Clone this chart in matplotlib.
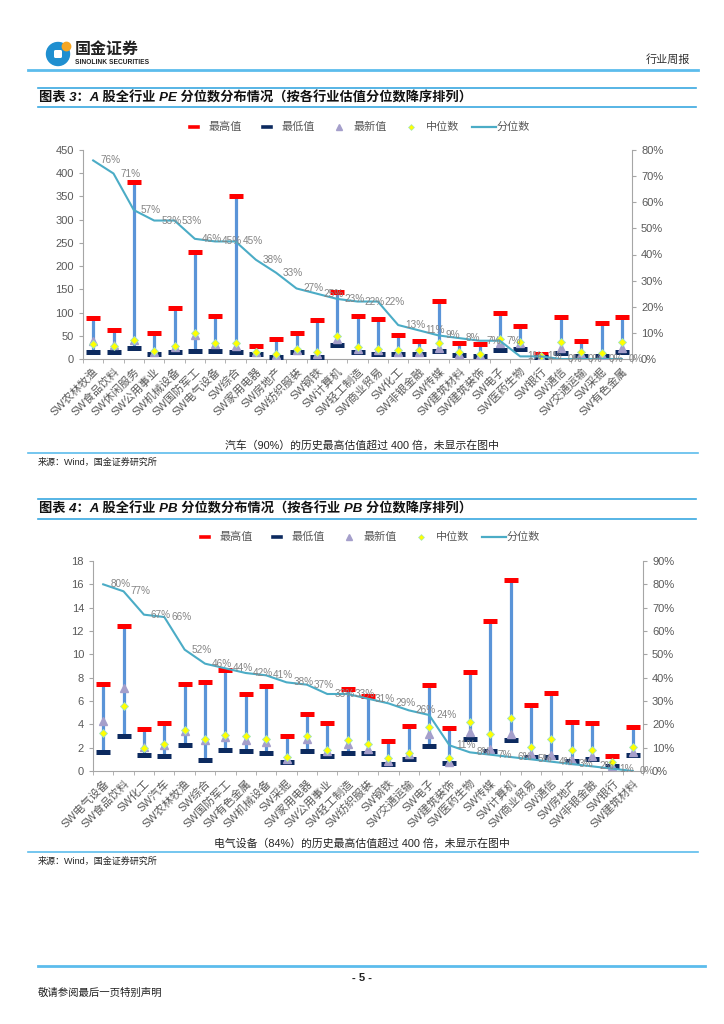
import matplotlib
matplotlib.use('Agg')
import matplotlib.pyplot as plt
from matplotlib.lines import Line2D
from matplotlib.patches import Circle, FancyBboxPatch
from matplotlib.ticker import FuncFormatter
import numpy as np

plt.rcParams['font.family'] = ['Liberation Sans', 'Noto Sans CJK SC', 'DejaVu Sans']

# ---- data: PE chart (图表3) ----
pe_cats = ['SW农林牧渔', 'SW食品饮料', 'SW休闲服务', 'SW公用事业', 'SW机械设备', 'SW国防军工',
           'SW电气设备', 'SW综合', 'SW家用电器', 'SW房地产', 'SW纺织服装', 'SW钢铁', 'SW计算机',
           'SW轻工制造', 'SW商业贸易', 'SW化工', 'SW非银金融', 'SW传媒', 'SW建筑材料', 'SW建筑装饰',
           'SW电子', 'SW医药生物', 'SW银行', 'SW通信', 'SW交通运输', 'SW采掘', 'SW有色金属']
pe_max = [88, 63, 382, 57, 110, 230, 93, 350, 29, 43, 56, 83, 145, 93, 86,
          52, 38, 124, 34, 32, 99, 70, 11, 90, 38, 77, 90]
pe_min = [15, 14, 24, 11, 15, 18, 18, 15, 11, 4, 14, 4, 31, 15, 11,
          11, 11, 18, 8, 7, 20, 22, 4, 13, 7, 7, 16]
pe_latest = [38, 30, 40, 16, 25, 52, 32, 29, 14, 9, 20, 11, 42, 21, 20,
             16, 16, 24, 11, 8, 34, 34, 4, 24, 11, 9, 24]
pe_median = [32, 29, 40, 18, 27, 57, 34, 34, 15, 11, 22, 16, 49, 26, 21,
             19, 19, 34, 15, 11, 43, 37, 6, 37, 16, 13, 36]
pe_pct = [76, 71, 57, 53, 53, 46, 45, 45, 38, 33, 27, 25, 23, 22, 22,
          13, 11, 9, 8, 7, 7, 1, 1, 0, 0, 0, 0]

# ---- data: PB chart (图表4) ----
pb_cats = ['SW电气设备', 'SW食品饮料', 'SW化工', 'SW汽车', 'SW农林牧渔', 'SW综合', 'SW国防军工',
           'SW有色金属', 'SW机械设备', 'SW采掘', 'SW家用电器', 'SW公用事业', 'SW轻工制造',
           'SW纺织服装', 'SW钢铁', 'SW交通运输', 'SW电子', 'SW建筑装饰', 'SW医药生物', 'SW传媒',
           'SW计算机', 'SW商业贸易', 'SW通信', 'SW房地产', 'SW非银金融', 'SW银行', 'SW建筑材料']
pb_max = [7.45, 12.4, 3.64, 4.1, 7.45, 7.65, 8.62, 6.59, 7.31, 3.0, 4.9, 4.15, 7.02, 6.45,
          2.61, 3.87, 7.34, 3.7, 8.48, 12.9, 16.33, 5.7, 6.7, 4.24, 4.15, 1.29, 3.78]
pb_min = [1.66, 3.04, 1.38, 1.32, 2.23, 0.97, 1.8, 1.69, 1.58, 0.77, 1.72, 1.26, 1.55, 1.55,
          0.63, 1.03, 2.12, 0.66, 2.72, 1.69, 2.64, 1.2, 1.17, 0.86, 1.06, 0.4, 1.4]
pb_latest = [4.27, 7.08, 2.06, 2.26, 3.44, 2.64, 2.92, 2.69, 2.52, 1.06, 2.72, 1.69, 2.29, 1.92,
             0.86, 1.43, 3.21, 0.77, 3.35, 1.92, 3.21, 1.49, 1.35, 0.97, 1.26, 0.4, 1.6]
pb_median = [3.27, 5.59, 2.0, 2.32, 3.55, 2.75, 3.12, 2.98, 2.75, 1.2, 3.0, 1.78, 2.69, 2.32,
             1.09, 1.58, 3.75, 1.15, 4.21, 3.21, 4.56, 2.09, 2.72, 1.83, 1.83, 0.77, 2.06]
pb_pct = [80, 77, 67, 66, 52, 46, 44, 42, 41, 38, 37, 33, 33, 31, 29, 26, 24,
          11, 8, 7, 6, 5, 4, 3, 2, 1, 0]

legend_names = ['最高值', '最低值', '最新值', '中位数', '分位数']

W, H = 724, 1024
RED = '#ff0000'
NAVY = '#0c2a5f'
BARBLUE = '#5a94d8'
LILAC = '#a59fcb'
YEL = '#ffff00'
TEAL = '#4bacc6'
GRAY_TXT = '#595959'
AX_GRAY = '#a6a6a6'
HDR_BLUE = '#5cbcec'

fig = plt.figure(figsize=(W / 100, H / 100), dpi=100)

# overlay in pixel coordinates for page decoration
ov = fig.add_axes([0, 0, 1, 1])
ov.set_xlim(0, W)
ov.set_ylim(H, 0)
ov.axis('off')


def chart(left, top, right, bottom, cats, mx, mn, lt, md, pct, ymax, ystep, rmax):
    ax = fig.add_axes([left / W, 1 - bottom / H, (right - left) / W, (bottom - top) / H])
    x = np.arange(len(cats))
    ax.vlines(x, mn, mx, color=BARBLUE, lw=2.3, zorder=2)
    ax.plot(x, mx, ls='none', marker='_', ms=10.5, mew=3.6, color=RED, zorder=3)
    ax.plot(x, mn, ls='none', marker='_', ms=10.5, mew=3.6, color=NAVY, zorder=3)
    ax.plot(x, lt, ls='none', marker='^', ms=5.5, color=LILAC, mec=LILAC, zorder=4)
    ax.plot(x, md, ls='none', marker='D', ms=4, mfc=YEL, mec='#9fe3c0', mew=0.6, zorder=5)
    ax.set_xlim(-0.5, len(cats) - 0.5)
    ax.set_ylim(0, ymax)
    ax.set_yticks(np.arange(0, ymax + ystep / 2, ystep))
    ax.set_xticks(x)
    ax.set_xticklabels(cats, rotation=45, ha='right', rotation_mode='anchor',
                       fontsize=8, color=GRAY_TXT)
    ax.set_xticks(np.arange(-0.5, len(cats), 1), minor=True)
    ax.tick_params(axis='x', which='major', length=0, pad=5)
    ax.tick_params(axis='x', which='minor', length=3, color=AX_GRAY)
    ax.tick_params(axis='y', length=3, color=AX_GRAY, labelsize=8, labelcolor=GRAY_TXT)
    for s in ['top', 'right']:
        ax.spines[s].set_visible(False)
    for s in ['left', 'bottom']:
        ax.spines[s].set_color(AX_GRAY)
    ax.patch.set_alpha(0)

    ax2 = ax.twinx()
    ax2.plot(x, np.array(pct) / 100, color=TEAL, lw=1.5, zorder=6)
    for i, p in enumerate(pct):
        ax2.annotate(f'{p}%', (i, p / 100), xytext=(5, 0), textcoords='offset points',
                     ha='left', va='center', fontsize=7.2, color='#858585', zorder=7)
    ax2.set_ylim(0, rmax)
    ax2.set_yticks(np.arange(0, rmax + 0.05, 0.1))
    ax2.yaxis.set_major_formatter(FuncFormatter(lambda v, _: f'{v * 100:.0f}%'))
    ax2.tick_params(axis='y', length=3, color=AX_GRAY, labelsize=8, labelcolor=GRAY_TXT)
    for s in ['top', 'left', 'bottom']:
        ax2.spines[s].set_visible(False)
    ax2.spines['right'].set_color(AX_GRAY)
    return ax


def legend_row(y, xs):
    # xs: marker x positions for the five entries
    ov.add_line(Line2D([xs[0] - 4, xs[0] + 4], [y, y], color=RED, lw=2.6))
    ov.add_line(Line2D([xs[1] - 4, xs[1] + 4], [y, y], color=NAVY, lw=2.6))
    ov.plot(xs[2], y, marker='^', ms=4, color=LILAC)
    ov.plot(xs[3], y, marker='D', ms=3, mfc=YEL, mec='#9fe3c0', mew=0.5)
    ov.add_line(Line2D([xs[4] - 12, xs[4] + 12], [y, y], color=TEAL, lw=1.6))
    for k, nm in enumerate(legend_names):
        off = 15 if k < 4 else 13
        ov.text(xs[k] + off, y, nm, fontsize=8, color=GRAY_TXT, ha='left', va='center')


def title_box(y_top, y_bot, text):
    ov.add_line(Line2D([38, 696], [y_top, y_top], color='#3aa8e0', lw=1.2))
    ov.add_line(Line2D([38, 696], [y_bot, y_bot], color='#3aa8e0', lw=1.2))
    ov.text(39, (y_top + y_bot) / 2 + 0.5, text, fontsize=9.5, fontweight='bold',
            fontstyle='italic', ha='left', va='center', color='#111111')


# ---- page header ----
ov.add_patch(Circle((58, 54), 11.5, color='#1f8fd0'))
ov.add_patch(FancyBboxPatch((54, 50), 8, 8, boxstyle='round,pad=0,rounding_size=1.5',
                            fc='white', ec='none'))
ov.add_patch(Circle((66.5, 46.5), 4.2, color='#f5a623'))
ov.text(75, 49, '国金证券', fontsize=11.5, fontweight='bold', color='#222222',
        ha='left', va='center', family=['Noto Sans CJK SC'])
ov.text(75, 62.5, 'SINOLINK SECURITIES', fontsize=4.8, fontweight='bold', color='#222222',
        ha='left', va='center')
ov.text(690, 60, '行业周报', fontsize=8, color='#333333', ha='right', va='center')
ov.add_line(Line2D([28, 698], [70, 70], color=HDR_BLUE, lw=2))

# ---- figure 3 ----
title_box(88, 107, '图表 3：A 股全行业 PE 分位数分布情况（按各行业估值分位数降序排列）')
legend_row(127, [194, 267, 339, 411, 484])
chart(83, 150, 632, 359, pe_cats, pe_max, pe_min, pe_latest, pe_median, pe_pct, 450, 50, 0.8)
ov.text(362, 445, '汽车（90%）的历史最高估值超过 400 倍，未显示在图中', fontsize=7.8,
        color='#222222', ha='center', va='center')
ov.add_line(Line2D([28, 698], [453, 453], color=HDR_BLUE, lw=1.2))
ov.text(38, 462, '来源：Wind，国金证券研究所', fontsize=6.5, color='#222222', ha='left', va='center')

# ---- figure 4 ----
title_box(499, 519, '图表 4：A 股全行业 PB 分位数分布情况（按各行业 PB 分位数降序排列）')
legend_row(537, [205, 277, 349, 421, 494])
chart(93, 561, 643, 771, pb_cats, pb_max, pb_min, pb_latest, pb_median, pb_pct, 18, 2, 0.9)
ov.text(362, 843, '电气设备（84%）的历史最高估值超过 400 倍，未显示在图中', fontsize=7.8,
        color='#222222', ha='center', va='center')
ov.add_line(Line2D([28, 698], [852, 852], color=HDR_BLUE, lw=1.2))
ov.text(38, 861, '来源：Wind，国金证券研究所', fontsize=6.5, color='#222222', ha='left', va='center')

# ---- footer ----
ov.add_line(Line2D([38, 705], [966, 966], color=HDR_BLUE, lw=2))
ov.text(362, 978, '- 5 -', fontsize=8, fontweight='bold', color='#222222', ha='center', va='center')
ov.text(38, 993, '敬请参阅最后一页特别声明', fontsize=7.5, color='#222222', ha='left', va='center')

fig.savefig('out.png', dpi=100)
